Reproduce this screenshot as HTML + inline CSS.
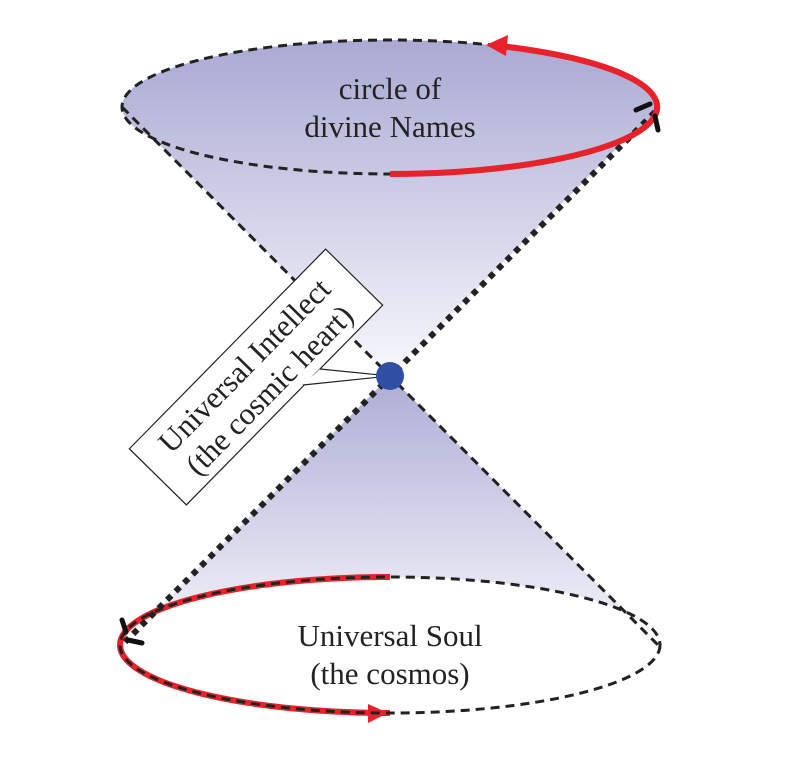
<!DOCTYPE html>
<html><head><meta charset="utf-8"><style>
html,body{margin:0;padding:0;background:#fff;width:800px;height:768px;overflow:hidden}
text{font-family:"Liberation Serif",serif;fill:#222}
</style></head><body>
<svg width="800" height="768" viewBox="0 0 800 768" xmlns="http://www.w3.org/2000/svg">
<defs>
<linearGradient id="gt" x1="0" y1="40" x2="0" y2="376" gradientUnits="userSpaceOnUse">
<stop offset="0" stop-color="#a9a9d3"/><stop offset="1" stop-color="#f8f8fd"/></linearGradient>
<linearGradient id="gb" x1="0" y1="380" x2="0" y2="640" gradientUnits="userSpaceOnUse">
<stop offset="0" stop-color="#aeaed6"/><stop offset="1" stop-color="#f4f4fa"/></linearGradient>
</defs>
<path d="M122,107 L390,376 L658,107 Z" fill="url(#gt)"/>
<ellipse cx="390" cy="107" rx="268" ry="67" fill="url(#gt)"/>
<path d="M390,376 L122,645 L658,645 Z" fill="url(#gb)"/>
<ellipse cx="390" cy="645" rx="270" ry="68" fill="#fff"/>
<path d="M390,577 A270,68 0 0 0 390,713" fill="none" stroke="#e8222a" stroke-width="6"/>
<path d="M368,704 L388,713 L368,723 Z" fill="#e8222a"/>
<ellipse cx="390" cy="107" rx="268" ry="67" fill="none" stroke="#222" stroke-width="3" stroke-dasharray="9,6"/>
<ellipse cx="390" cy="645" rx="270" ry="68" fill="none" stroke="#222" stroke-width="3" stroke-dasharray="9,6"/>
<line x1="122" y1="107" x2="658" y2="645" stroke="#222" stroke-width="3" stroke-dasharray="9,6"/>
<line x1="655" y1="112" x2="125" y2="642" stroke="#222" stroke-width="6" stroke-dasharray="6,6"/>
<path d="M390,174 A268,67 0 0 0 500,46" fill="none" stroke="#e8222a" stroke-width="6"/>
<path d="M486,45 L508,35 L506,56 Z" fill="#e8222a"/>
<path d="M636,110 L650,104 M655,116 L658,130" stroke="#111" stroke-width="5" stroke-linecap="round"/>
<path d="M122,620 L126,632 M128,640 L142,643" stroke="#111" stroke-width="5" stroke-linecap="round"/>
<g transform="translate(256,377) rotate(-45.5)">
<rect x="-140" y="-40" width="280" height="80" fill="#fff" stroke="#222" stroke-width="1.2"/>
<text x="0" y="-6" font-size="31" text-anchor="middle">Universal Intellect</text>
<text x="0" y="29" font-size="31" text-anchor="middle">(the cosmic heart)</text>
</g>
<path d="M320,369 L390,376 L303,385" fill="#fff" stroke="#222" stroke-width="1.2"/>
<line x1="322" y1="371" x2="304" y2="383" stroke="#fff" stroke-width="2"/>
<circle cx="390" cy="376" r="14" fill="#2f4fa5"/>
<text x="390" y="99" font-size="31" text-anchor="middle">circle of</text>
<text x="390" y="137" font-size="31" text-anchor="middle">divine Names</text>
<text x="390" y="646" font-size="31" text-anchor="middle">Universal Soul</text>
<text x="390" y="684" font-size="31" text-anchor="middle">(the cosmos)</text>
</svg>
</body></html>
